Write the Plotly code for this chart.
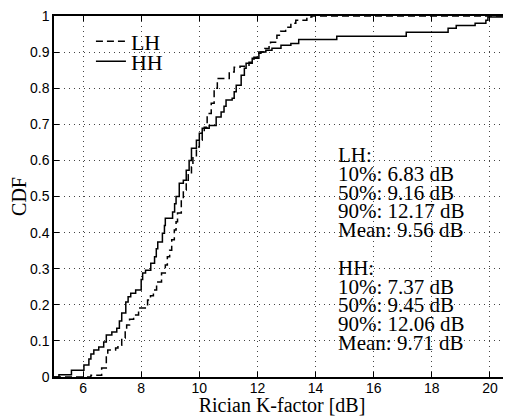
import plotly.graph_objects as go

# ---- data (step CDF, x = K-factor in dB at each jump, y = CDF after jump) ----
lh_x = [5.0, 6.27, 6.64, 6.80, 6.85, 7.12, 7.20, 7.33, 7.45, 7.50, 7.60, 7.74, 7.91,
        8.22, 8.32, 8.42, 8.53, 8.70, 8.83, 8.90, 8.98, 9.05, 9.14, 9.20, 9.25, 9.38,
        9.45, 9.55, 9.62, 9.73, 9.78, 9.90, 10.00, 10.10, 10.17, 10.27, 10.41, 10.51,
        10.62, 11.03, 11.20, 11.40, 11.71, 11.88, 11.99, 12.12, 12.25, 12.40, 12.45,
        12.67, 12.80, 12.97, 13.15, 13.32, 13.70, 13.87, 20.69]
lh_y = [0.0, 0.005, 0.025, 0.060, 0.075, 0.080, 0.088, 0.108, 0.130, 0.144, 0.160, 0.172,
        0.191, 0.213, 0.225, 0.241, 0.263, 0.288, 0.310, 0.333, 0.351, 0.380, 0.407,
        0.430, 0.454, 0.490, 0.518, 0.545, 0.560, 0.582, 0.610, 0.637, 0.656, 0.675,
        0.692, 0.730, 0.758, 0.800, 0.827, 0.845, 0.858, 0.861, 0.872, 0.886, 0.897,
        0.900, 0.910, 0.922, 0.927, 0.947, 0.958, 0.969, 0.980, 0.988, 0.997, 1.0, 1.0]

hh_x = [5.0, 5.17, 5.60, 6.03, 6.20, 6.27, 6.37, 6.54, 6.71, 6.80, 6.99, 7.16, 7.25,
        7.33, 7.47, 7.55, 7.64, 7.81, 8.00, 8.05, 8.15, 8.33, 8.46, 8.52, 8.57, 8.73,
        8.80, 8.83, 9.08, 9.15, 9.20, 9.31, 9.45, 9.55, 9.65, 9.73, 9.90, 10.00, 10.10,
        10.34, 10.58, 10.75, 10.85, 10.92, 11.13, 11.20, 11.27, 11.44, 11.55, 11.61,
        11.82, 12.05, 12.29, 12.50, 12.81, 13.15, 13.42, 14.73, 17.12, 18.56, 18.84,
        19.49, 19.86, 19.93, 20.60, 20.69]
hh_y = [0.0, 0.006, 0.019, 0.033, 0.050, 0.064, 0.075, 0.083, 0.097, 0.116, 0.125, 0.135,
        0.155, 0.177, 0.208, 0.222, 0.232, 0.241, 0.270, 0.288, 0.296, 0.315, 0.333,
        0.355, 0.374, 0.398, 0.420, 0.440, 0.457, 0.480, 0.500, 0.537, 0.545, 0.573,
        0.600, 0.634, 0.656, 0.675, 0.689, 0.697, 0.720, 0.734, 0.750, 0.767, 0.772,
        0.790, 0.808, 0.836, 0.855, 0.869, 0.883, 0.900, 0.905, 0.911, 0.919, 0.924,
        0.935, 0.944, 0.955, 0.966, 0.974, 0.980, 0.988, 0.997, 1.0, 1.0]

x_ticks = [6, 8, 10, 12, 14, 16, 18, 20]
y_ticks = [0, 0.1, 0.2, 0.3, 0.4, 0.5, 0.6, 0.7, 0.8, 0.9, 1]
y_tick_labels = ["0", "0.1", "0.2", "0.3", "0.4", "0.5", "0.6", "0.7", "0.8", "0.9", "1"]

stats_lines = ["LH:", "10%: 6.83 dB", "50%: 9.16 dB", "90%: 12.17 dB", "Mean: 9.56 dB",
               "", "HH:", "10%: 7.37 dB", "50%: 9.45 dB", "90%: 12.06 dB", "Mean: 9.71 dB"]

SERIF = "Liberation Serif, Times New Roman, serif"
SANS = "Liberation Sans, Arial, sans-serif"

fig = go.Figure()
fig.add_trace(go.Scatter(x=lh_x, y=lh_y, mode="lines", name="LH", line_shape="hv",
                         legend="legend",
                         line=dict(color="black", width=1.5, dash="7px,4px")))
fig.add_trace(go.Scatter(x=hh_x, y=hh_y, mode="lines", name="HH", line_shape="hv",
                         legend="legend2",
                         line=dict(color="black", width=1.5)))

# statistics text block (positions in page pixels of the plot area: top 16, bottom 377)
top_px = 155.0
step_px = 18.8
plot_top, plot_bot = 16.0, 377.0
for i, t in enumerate(stats_lines):
    if not t:
        continue
    py = top_px + i * step_px
    yd = (plot_bot - py) / (plot_bot - plot_top)
    fig.add_annotation(x=14.69, y=yd, xref="x", yref="y", text=t, showarrow=False,
                       xanchor="left", yanchor="middle",
                       font=dict(family=SERIF, size=21, color="black"))

axis_common = dict(showline=True, linecolor="black", linewidth=1.5, mirror="ticks",
                   ticks="inside", ticklen=5, tickcolor="black", tickwidth=1,
                   showgrid=True, gridcolor="#444", gridwidth=1, griddash="1px,4px",
                   zeroline=False, automargin=False, ticklabeloverflow="allow",
                   tickfont=dict(family=SANS, size=14, color="black"))

fig.update_xaxes(range=[5, 20.69], tickvals=x_ticks, ticktext=[str(v) for v in x_ticks],
                 ticklabelstandoff=-3,
                 title=dict(text="Rician K-factor [dB]", font=dict(family=SERIF, size=20, color="black"),
                            standoff=4),
                 **axis_common)
fig.update_yaxes(range=[0, 1], tickvals=y_ticks, ticktext=y_tick_labels,
                 title=dict(text="CDF", font=dict(family=SERIF, size=20, color="black"),
                            standoff=6),
                 **axis_common)

legend_common = dict(xanchor="left", yanchor="top", bgcolor="rgba(255,255,255,0)",
                     borderwidth=0, font=dict(family=SERIF, size=22, color="black"),
                     itemwidth=30)

# the page body has an 8px margin, so the figure is 8px smaller and margins compensate
fig.update_layout(
    width=503, height=408,
    margin=dict(l=46, r=1, t=8, b=39),
    plot_bgcolor="white", paper_bgcolor="white",
    showlegend=True,
    legend=dict(x=0.081, y=0.9875, **legend_common),
    legend2=dict(x=0.081, y=0.932, **legend_common),
)

fig.write_html("out.html")
